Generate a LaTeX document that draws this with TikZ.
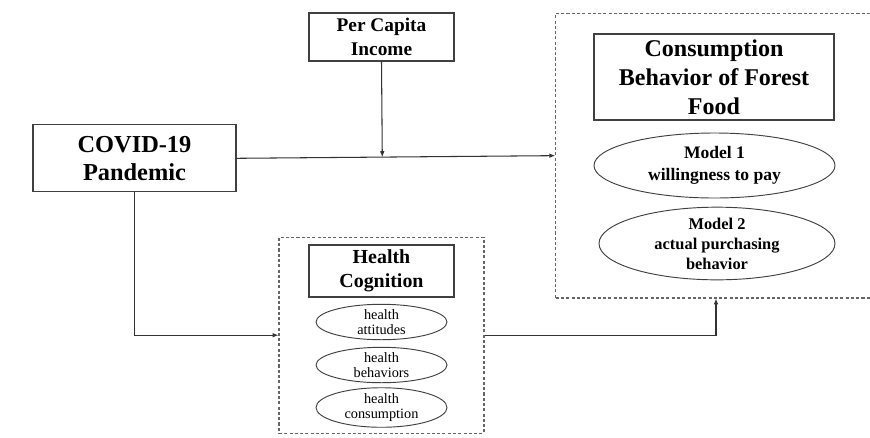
\documentclass[tikz,border=0pt]{standalone}
\usepackage{fontspec}
\setmainfont{Liberation Serif}
\usetikzlibrary{arrows, arrows.meta, shapes.geometric, calc}

\newcommand{\pxu}{0.03cm}

\begin{document}
\begin{tikzpicture}[x=0.03cm, y=-0.03cm,
  solidbox/.style={draw=black!75, line width=0.9pt, align=center, inner sep=0pt},
  dashbox/.style={draw=black!60, line width=0.9pt, dash pattern=on 2.6pt off 1.9pt, inner sep=0pt},
  bigoval/.style={ellipse, draw=black!75, line width=0.8pt, align=center, inner sep=0pt, font=\bfseries\fontsize{15}{18.5}\selectfont},
  smalloval/.style={ellipse, draw=black!75, line width=0.8pt, align=center, inner sep=0pt, minimum width=131*\pxu, font=\fontsize{12.2}{12.8}\selectfont},
  link/.style={draw=black!80, line width=0.9pt, -{Latex[length=5pt,width=4pt]}}]

\useasboundingbox (0,0) rectangle (870,437);
\clip (0,0) rectangle (870,437);

% left and top boxes
\node[solidbox, minimum width=145*\pxu, minimum height=48*\pxu, font=\bfseries\fontsize{16.5}{19.9}\selectfont] (income) at (381.5,37) {Per Capita\\Income};
\node[solidbox, minimum width=203*\pxu, minimum height=67*\pxu, font=\bfseries\fontsize{20.8}{23.6}\selectfont] (covid) at (134.5,158.3) {COVID-19\\Pandemic};

% consumption side (dashed frame runs past the right edge)
\node[dashbox, minimum width=320.6*\pxu, minimum height=284.7*\pxu] (cons) at (716,155.65) {};
\node[solidbox, minimum width=240*\pxu, minimum height=86*\pxu, font=\bfseries\fontsize{20.5}{24.7}\selectfont] (food) at (714,77) {Consumption\\Behavior of Forest\\Food};
\node[bigoval, minimum width=241*\pxu, minimum height=65*\pxu] (model1) at (714.5,165.5) {Model 1\\willingness to pay};
\node[bigoval, minimum width=236*\pxu, minimum height=67*\pxu, font=\bfseries\fontsize{14}{17}\selectfont] (model2) at (717,243.5) {Model 2\\actual purchasing\\behavior};

% health cognition
\node[dashbox, minimum width=205*\pxu, minimum height=195.7*\pxu] (health) at (381.5,335.2) {};
\node[solidbox, minimum width=145*\pxu, minimum height=52*\pxu, font=\bfseries\fontsize{17}{20.5}\selectfont] (cognition) at (381.5,271) {Health\\Cognition};
\node[smalloval, minimum height=32*\pxu] (attitudes) at (381.5,322) {health\\attitudes};
\node[smalloval, minimum height=32*\pxu] (behaviors) at (381.5,365) {health\\behaviors};
\node[smalloval, minimum height=33*\pxu] (consumption) at (381.5,407.5) {health\\consumption};

\draw[link] (covid.east) -- (cons.west);
\draw[link] (income.south) -- ($(covid.east)!(income.south)!(cons.west)$);
\draw[link] (covid.south) |- (health.west);
\draw[link] (health.east) -| (cons.south);
\end{tikzpicture}
\end{document}
